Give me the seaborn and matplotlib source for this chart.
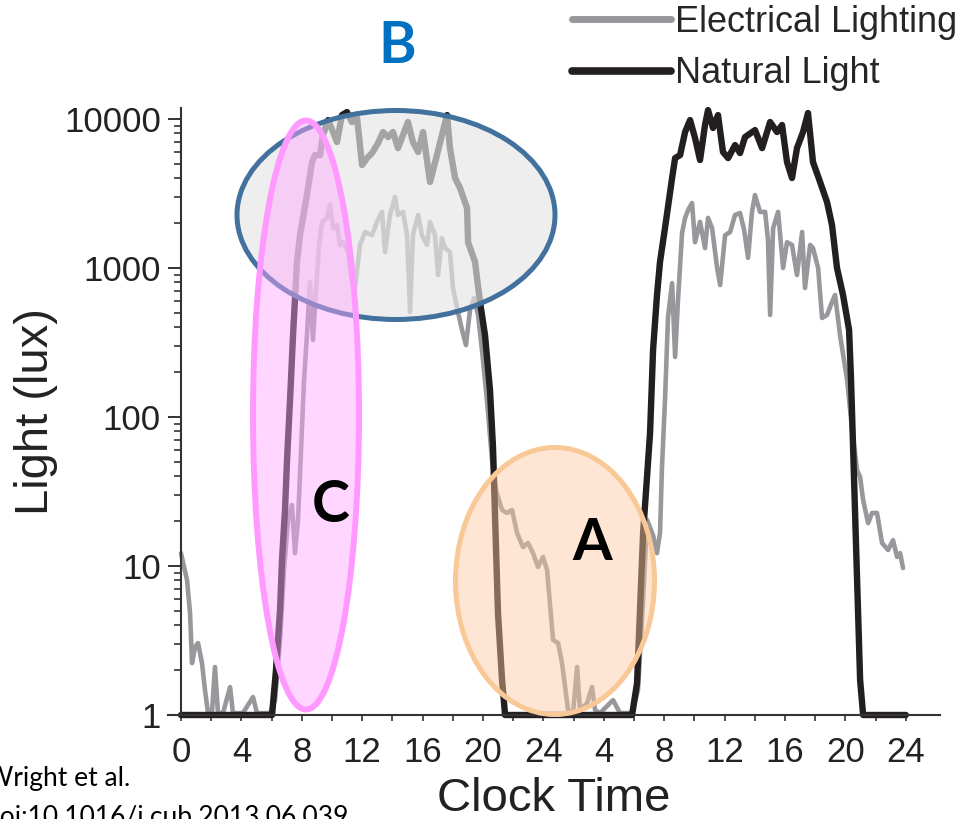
import matplotlib
matplotlib.use("Agg")
import matplotlib.pyplot as plt
from matplotlib.patches import Ellipse
from matplotlib.lines import Line2D
from matplotlib.ticker import LogLocator, NullFormatter
import numpy as np
import pandas as pd
import seaborn as sns

# ---------------- data (hours since midnight of day 1, lux) ----------------
natural_hours = [0, 6.03, 6.29, 6.56, 6.69, 6.89, 7.02, 7.22, 7.42, 7.68, 7.88, 8.34, 8.68,
                 8.87, 9.21, 9.40, 9.74, 10.07, 10.33, 10.66, 10.99, 11.32, 11.66, 11.99,
                 12.32, 12.65, 13.05, 13.38, 13.71, 14.04, 14.37, 14.70, 15.03, 15.36, 15.70,
                 16.03, 16.49, 16.95, 17.28, 17.62, 17.81, 18.15, 18.48, 18.94, 19.01, 19.47,
                 19.80, 20.13, 20.46, 20.66, 20.79, 20.99, 21.26, 21.46, 29.87, 30.20, 30.60,
                 31.06, 31.26, 31.52, 31.72, 32.05, 32.52, 32.72, 33.05, 33.38, 33.71, 34.04,
                 34.37, 34.70, 34.90, 35.23, 35.56, 35.89, 36.23, 36.69, 37.02, 37.35, 38.01,
                 38.48, 39.01, 39.47, 39.80, 40.13, 40.46, 40.79, 41.19, 41.52, 41.85, 42.32,
                 42.78, 43.11, 43.44, 43.84, 44.24, 44.37, 44.57, 44.77, 44.97, 45.17, 48.0]
natural_lux = [1, 1, 2.0, 5.1, 11, 24, 51, 130, 355, 1100, 1660, 3090, 5140,
               5730, 5730, 7810, 9840, 8180, 7010, 10630, 11140, 9550, 10160, 4910,
               5470, 5910, 6900, 8180, 7570, 8180, 6380, 7810, 9550, 7010, 6010,
               8180, 3780, 5730, 7810, 10630, 6380, 4020, 3440, 2530, 1490, 1100,
               592, 355, 152, 63, 22.7, 4.84, 1.72, 1, 1, 1.64, 16.6,
               78, 282, 659, 1100, 1855, 4020, 5470, 5730, 8180, 9840, 7450,
               5310, 9120, 11480, 8710, 10630, 6010, 5470, 6690, 5910, 7570, 8430,
               6380, 9550, 8180, 9120, 5140, 4020, 6380, 8180, 10970, 5140, 3780,
               2770, 1940, 1000, 659, 384, 177, 37.8, 8.05, 1.72, 1, 1]

electrical_hours = [0.0, 0.4, 0.6, 0.73, 0.93, 1.13, 1.39, 1.59, 1.79, 2.05, 2.25, 2.45, 2.78,
                    3.25, 3.44, 4.1, 4.77, 5.03, 5.9, 6.23, 6.56, 6.82, 7.09, 7.35, 7.55, 7.75,
                    7.95, 8.15, 8.34, 8.54, 8.74, 8.94, 9.14, 9.34, 9.67, 9.87, 10.07, 10.33,
                    10.53, 10.73, 11.06, 11.32, 11.52, 11.85, 12.19, 12.65, 12.98, 13.31, 13.51,
                    13.84, 14.17, 14.37, 14.70, 14.97, 15.17, 15.36, 15.70, 15.96, 16.29, 16.49,
                    16.82, 17.02, 17.28, 17.48, 17.81, 18.01, 18.34, 18.61, 18.87, 19.14, 19.40,
                    19.67, 19.93, 20.26, 20.60, 20.86, 21.26, 21.59, 21.92, 22.25, 22.65, 22.98,
                    23.31, 23.64, 23.97, 24.24, 24.64, 24.97, 25.23, 25.63, 25.96, 26.23, 26.42,
                    26.89, 27.22, 27.42, 27.75, 28.61, 29.07, 29.87, 30.26, 30.60, 30.86, 31.26,
                    31.52, 31.72, 31.85, 32.05, 32.25, 32.52, 32.72, 32.91, 33.18, 33.38, 33.58,
                    33.84, 34.04, 34.37, 34.70, 34.90, 35.17, 35.50, 35.70, 36.03, 36.36, 36.69,
                    37.02, 37.29, 37.55, 37.81, 38.01, 38.34, 38.68, 38.87, 39.01, 39.21, 39.54,
                    39.87, 40.13, 40.46, 40.79, 41.13, 41.32, 41.66, 41.85, 42.19, 42.45, 42.78,
                    43.11, 43.31, 43.64, 44.11, 44.44, 44.77, 44.97, 45.17, 45.50, 45.76, 46.09,
                    46.42, 46.82, 47.15, 47.42, 47.62, 47.81]
electrical_lux = [12.2, 8.05, 4.84, 2.23, 2.86, 3.04, 2.23, 1.47, 1.03, 1.03, 2.1, 1.03, 1.03,
                  1.54, 1.03, 1.03, 1.32, 1.03, 1.03, 1.26, 3.2, 9.4, 20.4, 25.7, 12.2, 20.4,
                  60, 177, 355, 805, 329, 712, 1430, 2040, 2170, 2650, 1855, 1940,
                  1430, 1490, 1280, 805, 734, 1430, 1745, 1660, 2040, 2380, 1280,
                  2270, 3000, 2270, 2380, 1660, 507, 1660, 2270, 1660, 1430, 2040,
                  1660, 897, 1590, 1360, 1280, 734, 507, 384, 304, 523, 629,
                  484, 282, 130, 51, 32, 23.8, 22.7, 23.8, 16.7, 13.4, 14.3,
                  12.2, 9.85, 11.5, 9.4, 3.19, 3.04, 2.23, 1.08, 1.03, 2.1, 1.08,
                  1.2, 1.54, 1.08, 1.03, 1.26, 1.03, 1.03, 1.47, 5.9, 20.4, 16.1,
                  12.2, 16.7, 46, 130, 469, 792, 253, 610, 1718, 2170, 2450,
                  2730, 1490, 2040, 1360, 2170, 1850, 1000, 769, 1660, 1745, 2270,
                  2340, 1800, 1170, 2380, 3090, 2380, 2380, 1540, 484, 1850, 2380,
                  1000, 1490, 1430, 897, 1745, 734, 1430, 1360, 1000, 462, 484,
                  592, 659, 355, 177, 82, 44, 39.6, 27.7, 19.4, 22.7, 22.7,
                  14.3, 12.8, 14.9, 11.5, 12.2, 9.7]

series_names = ["Electrical Lighting", "Natural Light"]
x_ticks = [0, 4, 8, 12, 16, 20, 24, 28, 32, 36, 40, 44, 48]
x_tick_labels = ["0", "4", "8", "12", "16", "20", "24", "4", "8", "12", "16", "20", "24"]
y_ticks = [1, 10, 100, 1000, 10000]
y_tick_labels = ["1", "10", "100", "1000", "10000"]

GREY = "#97979C"
BLACK = "#231F20"
W, H = 972, 819

sns.set_style("ticks")
plt.rcParams["font.family"] = ["Liberation Sans", "DejaVu Sans"]

fig = plt.figure(figsize=(W / 100, H / 100), dpi=100)
ax = fig.add_axes([168 / W, 104 / H, 772 / W, 607 / H])

df_e = pd.DataFrame({"hour": electrical_hours, "lux": electrical_lux})
df_n = pd.DataFrame({"hour": natural_hours, "lux": natural_lux})
sns.lineplot(data=df_e, x="hour", y="lux", ax=ax, color=GREY, lw=3.3, sort=False,
             estimator=None, clip_on=False, solid_joinstyle="round")
sns.lineplot(data=df_n, x="hour", y="lux", ax=ax, color=BLACK, lw=4.6, sort=False,
             estimator=None, clip_on=False, solid_joinstyle="round")

ax.set_yscale("log")
ax.set_ylim(1, 11860)
ax.set_xlim(-0.86, 50.26)
ax.spines["left"].set_position(("data", 0))
for s in ["top", "right"]:
    ax.spines[s].set_visible(False)
for s in ["left", "bottom"]:
    ax.spines[s].set_linewidth(1.5)
    ax.spines[s].set_color("#333333")

ax.set_xticks(x_ticks)
ax.set_xticklabels(x_tick_labels)
ax.set_xticks([t + 2 for t in x_ticks[:-1]], minor=True)
ax.set_yticks(y_ticks)
ax.set_yticklabels(y_tick_labels)
ax.yaxis.set_minor_locator(LogLocator(base=10, subs=np.arange(2, 10)))
ax.yaxis.set_minor_formatter(NullFormatter())

ax.tick_params(axis="y", which="major", length=9.5, width=1.4, direction="out",
               labelsize=25, pad=5, color="#333333", labelcolor="#222222")
ax.tick_params(axis="y", which="minor", length=5, width=1.2, direction="out", color="#333333")
ax.tick_params(axis="x", which="both", length=4, width=1.2, direction="out",
               labelsize=25, pad=11, color="#333333", labelcolor="#222222")

ax.set_xlabel("Clock Time", fontsize=34, color="#222222", labelpad=6)
ax.set_ylabel("Light (lux)", fontsize=34, color="#222222", labelpad=4)
ax.legend_ = None

handles = [Line2D([], [], color=GREY, lw=5), Line2D([], [], color=BLACK, lw=5.5)]
fig.legend(handles=handles, labels=series_names, loc="upper left",
           bbox_to_anchor=(570 / W, 1.0 - 3 / H), frameon=False, fontsize=26,
           handlelength=2.75, handletextpad=0.1, labelspacing=0.46,
           borderpad=0.05, borderaxespad=0)


def add_ellipse(cx, cy, w, h, fc, alpha, ec, lw):
    fill = Ellipse((cx / W, 1 - cy / H), w / W, h / H, transform=fig.transFigure,
                   facecolor=fc, alpha=alpha, edgecolor="none", zorder=5)
    edge = Ellipse((cx / W, 1 - cy / H), w / W, h / H, transform=fig.transFigure,
                   fill=False, edgecolor=ec, lw=lw, zorder=5)
    fig.patches.append(fill)
    fig.patches.append(edge)


add_ellipse(396, 215, 318, 209, "#E6E6E6", 0.67, "#41719C", 3.6)
add_ellipse(555, 581, 199, 267, "#FFC8A0", 0.45, "#F9C897", 3.6)
add_ellipse(306, 415, 106, 589, "#FFA6FF", 0.45, "#FF99FF", 4.3)

letter_font = ["Lato", "DejaVu Sans"]
fig.text(397 / W, 1 - 63 / H, "B", color="#0070C0", fontsize=41, fontweight="bold",
         ha="center", va="baseline", family=letter_font, zorder=6)
fig.text(331 / W, 1 - 522 / H, "C", color="black", fontsize=41, fontweight="bold",
         ha="center", va="baseline", family=letter_font, zorder=6)
fig.text(592 / W, 1 - 560 / H, "A", color="black", fontsize=41, fontweight="bold",
         ha="center", va="baseline", family=letter_font, zorder=6)

fig.text(-14 / W, 1 - 786 / H, "Wright et al.", color="black", fontsize=19,
         ha="left", va="baseline", family=letter_font)
fig.text(-14 / W, 1 - 825 / H, "doi:10.1016/j.cub.2013.06.039", color="black", fontsize=19,
         ha="left", va="baseline", family=letter_font)

fig.savefig("out.png", dpi=100)
